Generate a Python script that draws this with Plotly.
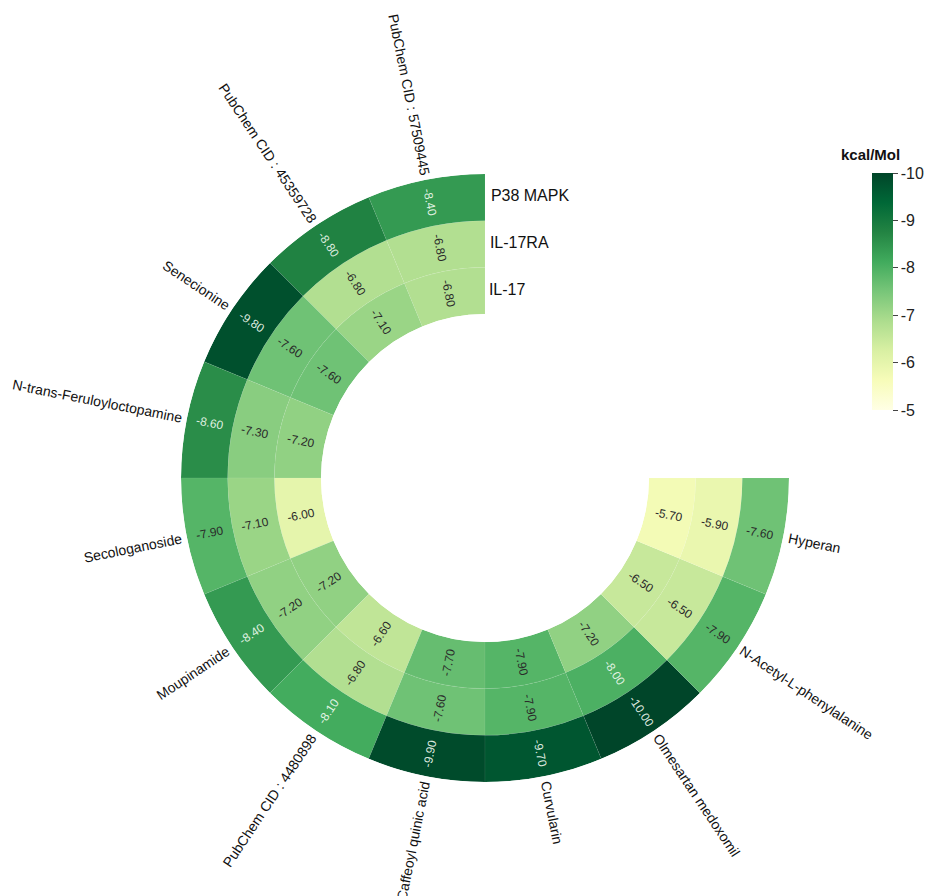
import math
import plotly.graph_objects as go

# ---------------- data ----------------
compounds = [
    "PubChem CID : 57509445", "PubChem CID : 45359728", "Senecionine",
    "N-trans-Feruloyloctopamine", "Secologanoside", "Moupinamide",
    "PubChem CID : 4480898", "Caffeoyl quinic acid", "Curvularin",
    "Olmesartan medoxomil", "N-Acetyl-L-phenylalanine", "Hyperan",
]
targets = ["IL-17", "IL-17RA", "P38 MAPK"]          # inner -> outer ring
il17 = [-6.80, -7.10, -7.60, -7.20, -6.00, -7.20, -6.60, -7.70, -7.90, -7.20, -6.50, -5.70]
il17ra = [-6.80, -6.80, -7.60, -7.30, -7.10, -7.20, -6.80, -7.60, -7.90, -8.00, -6.50, -5.90]
p38 = [-8.40, -8.80, -9.80, -8.60, -7.90, -8.40, -8.10, -9.90, -9.70, -10.00, -7.90, -7.60]
ring_values = [il17, il17ra, p38]
cbar_ticks = [-5, -6, -7, -8, -9, -10]

# ---------------- geometry / style ----------------
W, H = 930, 896
CX, CY = 485, 478           # pixel centre of the polar subplot
R_OUT = 304
R_IN = 164
RING_W = (R_OUT - R_IN) / 3
SPAN = 270.0
STEP = SPAN / len(compounds)

ylgn = [
    [0.0, "#ffffe5"], [0.125, "#f7fcb9"], [0.25, "#d9f0a3"], [0.375, "#addd8e"],
    [0.5, "#78c679"], [0.625, "#41ab5d"], [0.75, "#238443"], [0.875, "#006837"],
    [1.0, "#004529"],
]

thetas, bases, zs, hovers = [], [], [], []
for ri, vals in enumerate(ring_values):
    for ci, v in enumerate(vals):
        thetas.append(STEP * ci + STEP / 2)
        bases.append(ri)
        zs.append(-v)
        hovers.append(f"{compounds[ci]}<br>{targets[ri]}: {v:.2f}")

fig = go.Figure()
fig.add_trace(go.Barpolar(
    theta=thetas, r=[1] * len(thetas), base=bases, width=[STEP] * len(thetas),
    marker=dict(
        color=zs, colorscale=ylgn, cmin=5, cmax=10,
        line=dict(color="rgba(255,255,255,0.12)", width=0.5),
        colorbar=dict(
            thickness=21, thicknessmode="pixels", len=237, lenmode="pixels",
            x=872 / W, xanchor="left", xpad=0,
            y=1 - 173 / H, yanchor="top", ypad=0,
            outlinewidth=0,
            tickvals=[-t for t in cbar_ticks], ticktext=[str(t) for t in cbar_ticks],
            ticks="outside", ticklen=5, tickwidth=1, tickcolor="#444",
            tickfont=dict(family="Arial, Liberation Sans", size=16, color="#222"),
        ),
        showscale=True,
    ),
    hovertext=hovers, hoverinfo="text",
))

# ring (target) labels at the open end of the rings
fig.add_trace(go.Scatterpolar(
    r=[0.5, 1.5, 2.5], theta=[-1.2, -1.2, -1.2], mode="text", text=targets,
    textposition="middle right",
    textfont=dict(family="Arial, Liberation Sans", size=16, color="#111"),
    hoverinfo="skip",
))

dom_x = [(CX - R_OUT) / W, (CX + R_OUT) / W]
dom_y = [1 - (CY + R_OUT) / H, 1 - (CY - R_OUT) / H]

fig.update_layout(
    width=W, height=H, margin=dict(l=0, r=0, t=0, b=0),
    paper_bgcolor="white", plot_bgcolor="white", showlegend=False,
    polar=dict(
        domain=dict(x=dom_x, y=dom_y), hole=R_IN / R_OUT, bgcolor="white",
        radialaxis=dict(range=[0, 3], visible=False),
        angularaxis=dict(rotation=90, direction="counterclockwise", visible=False,
                         thetaunit="degrees"),
    ),
)

# approximate Arial advance widths (per 1000 em)
AW = {" ": 278, "-": 333, ":": 278, ".": 278, "A": 667, "B": 667, "C": 722, "D": 722,
      "E": 667, "F": 611, "H": 722, "I": 278, "K": 667, "L": 556, "M": 833, "N": 722,
      "O": 778, "P": 667, "R": 722, "S": 667, "a": 556, "b": 556, "c": 500, "d": 556,
      "e": 556, "f": 278, "g": 556, "h": 556, "i": 222, "j": 222, "k": 500, "l": 222,
      "m": 833, "n": 556, "o": 556, "p": 556, "q": 556, "r": 333, "s": 500, "t": 278,
      "u": 556, "v": 500, "w": 722, "x": 500, "y": 500, "z": 500}


def text_width(s, size):
    return sum(AW.get(ch, 556) for ch in s) / 1000 * size


def to_paper(r, phi):
    x = CX + r * math.cos(math.radians(phi))
    y = CY - r * math.sin(math.radians(phi))
    return x / W, 1 - y / H


def readable_angle(phi):
    if math.cos(math.radians(phi)) >= 0:
        a = -phi
    else:
        a = -(phi + 180)
    a = (a + 180) % 360 - 180
    return a


annotations = []
for ri, vals in enumerate(ring_values):
    for ci, v in enumerate(vals):
        phi = 90 + STEP * ci + STEP / 2
        rm = R_IN + (ri + 0.5) * RING_W
        x, y = to_paper(rm, phi)
        col = "rgba(240,250,240,0.92)" if v <= -8.0 else "#2a2a2a"
        annotations.append(dict(
            x=x, y=y, xref="paper", yref="paper", text=f"{v:.2f}", showarrow=False,
            textangle=readable_angle(phi), xanchor="center", yanchor="middle",
            font=dict(family="Arial, Liberation Sans", size=12, color=col),
        ))

for ci, name in enumerate(compounds):
    phi = 90 + STEP * ci + STEP / 2
    L = text_width(name, 14)
    x, y = to_paper(R_OUT + 5 + L / 2, phi)
    annotations.append(dict(
        x=x, y=y, xref="paper", yref="paper", text=name, showarrow=False,
        textangle=readable_angle(phi), xanchor="center", yanchor="middle",
        font=dict(family="Arial, Liberation Sans", size=14, color="#111"),
    ))

annotations.append(dict(
    x=870 / W, y=1 - 155 / H, xref="paper", yref="paper", text="<b>kcal/Mol</b>",
    showarrow=False, xanchor="center", yanchor="middle",
    font=dict(family="Arial, Liberation Sans", size=15, color="#111"),
))

fig.update_layout(annotations=annotations)
fig.write_html("out.html")
